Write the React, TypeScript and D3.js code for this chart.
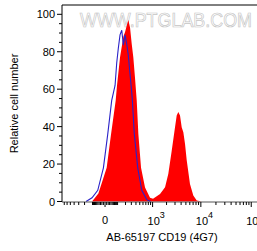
import React from 'react';
import * as d3 from 'd3';

// histogram overlay: CD19 stained (red fill) vs isotype control (blue line)
// x values are fluorescence intensity, y values are relative cell number

const redX = [-105, -46, 10, 41, 81, 94, 127, 169, 193, 219, 245, 275, 308, 340, 378, 419, 461, 538, 671, 875, 1022, 1454, 1860, 2180, 2560, 3000, 3250, 3510, 3800, 4110, 4440, 4800, 5200, 6050, 7060, 8270, 10410];
const redY = [0, 4.3, 18, 36, 54, 62, 77, 88, 90.5, 94, 97, 93, 84, 77, 66, 54, 36, 18, 7.5, 2, 1.5, 4, 7.6, 14.8, 27, 39.7, 46, 47.8, 46, 39.7, 37, 30.8, 22, 9.4, 3.2, 0.5, 0];

const blueX = [-178, -105, -51, -10, 17, 46, 60, 75, 91, 108, 127, 148, 169, 193, 219, 245, 275, 308, 320, 362, 445, 560, 735, 900];
const blueY = [0, 2, 6, 18, 36, 54, 58, 62, 74, 82, 89, 91.5, 83.5, 89, 84, 78, 68, 58, 54, 36, 18, 6, 1, 0];

const yTicks = [0, 20, 40, 60, 80, 100];
const xMajor = [1000, 10000, 100000];
const xMajorExp = ['3', '4', '5'];

const width = 257;
const height = 251;
const plotLeft = 62;
const plotTop = 5;
const axisY = 202;

export default function App() {
  const x = d3.scaleSymlog().constant(130).domain([-790, 130000]).range([plotLeft, width]);
  const y = d3.scaleLinear().domain([0, 100]).range([201.5, 14.3]);

  const red = redX.map((v, i) => [v, redY[i]] as [number, number]);
  const blue = blueX.map((v, i) => [v, blueY[i]] as [number, number]);

  const area = d3.area<[number, number]>()
    .x(d => x(d[0]))
    .y0(y(0))
    .y1(d => y(d[1]));
  const line = d3.line<[number, number]>()
    .x(d => x(d[0]))
    .y(d => y(d[1]));

  // minor ticks: 1..9 x each decade, both signs, inside the domain
  const minor: number[] = [];
  [10, 100, 1000, 10000].forEach(dec => {
    for (let m = 1; m <= 9; m++) {
      const v = m * dec;
      if (v < 130000 && xMajor.indexOf(v) < 0) minor.push(v);
      if (-v > -790) minor.push(-v);
    }
  });

  const yMinor = d3.range(0, 101, 5).filter(v => v % 20 !== 0);
  const font = 'Liberation Sans, Arial, sans-serif';

  return (
    <svg width={width} height={height} style={{ position: 'absolute', left: 0, top: 0 }} fontFamily={font}>
      <rect width={width} height={height} fill="#fff" />
      <text x={166} y={27} fontSize={20} fill="#fff" stroke="#c4c4c4" strokeWidth={0.7}
        textLength={172} lengthAdjust="spacingAndGlyphs" textAnchor="middle">WWW.PTGLAB.COM</text>

      <path d={area(red) || ''} fill="#ff0000" />
      <path d={line(blue) || ''} fill="none" stroke="#2a22c8" strokeWidth={1.1} />

      {/* frame */}
      <line x1={plotLeft} x2={width} y1={plotTop} y2={plotTop} stroke="#000" strokeWidth={1} />
      <line x1={plotLeft} x2={plotLeft} y1={plotTop} y2={axisY} stroke="#000" strokeWidth={1} />
      <line x1={plotLeft} x2={width} y1={axisY} y2={axisY} stroke="#555" strokeWidth={1} />

      {/* y axis */}
      {yTicks.map(t => (
        <g key={'y' + t}>
          <line x1={plotLeft - 5} x2={plotLeft} y1={y(t)} y2={y(t)} stroke="#000" />
          <text x={plotLeft - 7} y={y(t) + 4} fontSize={11} textAnchor="end">{t}</text>
        </g>
      ))}
      {yMinor.map(t => (
        <line key={'ym' + t} x1={plotLeft - 3} x2={plotLeft} y1={y(t)} y2={y(t)} stroke="#000" />
      ))}
      <text transform={`translate(18,${(plotTop + axisY) / 2}) rotate(-90)`} fontSize={11} textAnchor="middle">Relative cell number</text>

      {/* x axis */}
      {minor.map(t => (
        <line key={'xm' + t} x1={x(t)} x2={x(t)} y1={axisY} y2={axisY + 3} stroke="#000" />
      ))}
      <line x1={x(0)} x2={x(0)} y1={axisY} y2={axisY + 5} stroke="#000" />
      <text x={x(0)} y={224} fontSize={11} textAnchor="middle">0</text>
      {xMajor.map((t, i) => (
        <g key={'x' + t}>
          <line x1={x(t)} x2={x(t)} y1={axisY} y2={axisY + 5} stroke="#000" />
          <text x={x(t) - 5} y={225} fontSize={11}>10<tspan dy={-7} fontSize={9}>{xMajorExp[i]}</tspan></text>
        </g>
      ))}
      <text x={162} y={241} fontSize={11} textAnchor="middle">AB-65197 CD19 (4G7)</text>
    </svg>
  );
}
